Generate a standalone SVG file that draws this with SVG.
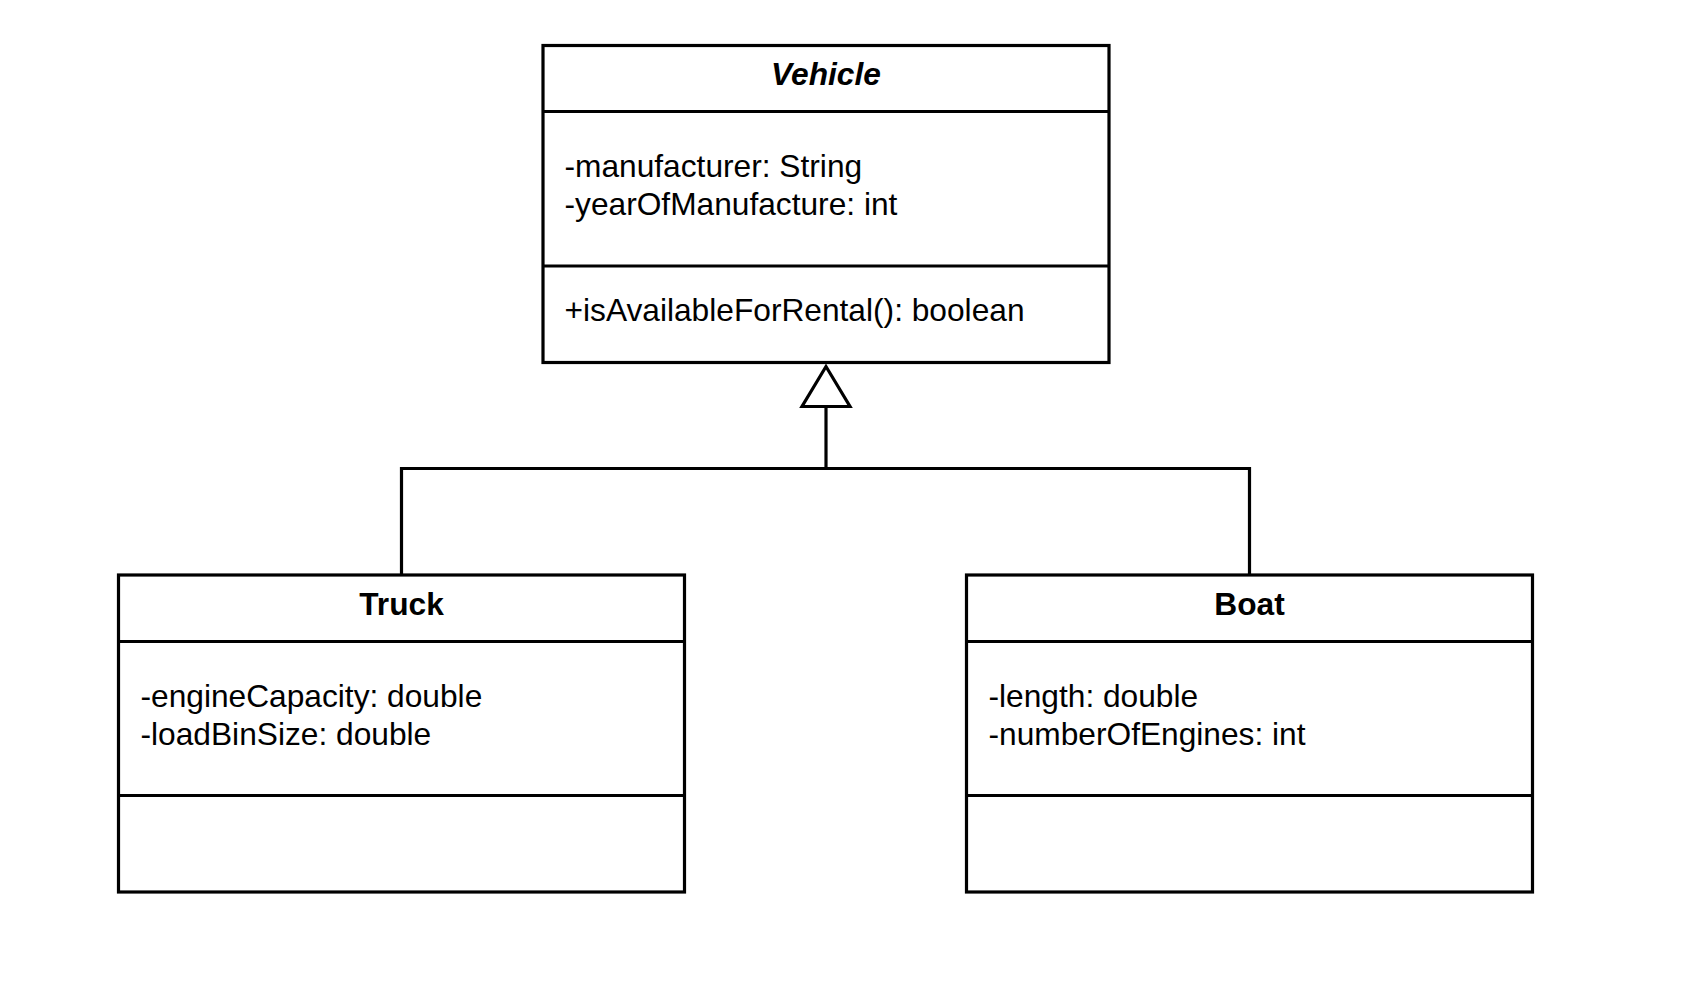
<svg xmlns="http://www.w3.org/2000/svg" width="1696" height="1000" viewBox="0 0 1696 1000">
<style>
.box{fill:#fff;stroke:#000;stroke-width:3.2}
.div{stroke:#000;stroke-width:3.2;fill:none}
.t{font-family:"Liberation Sans",Arial,sans-serif;font-size:31.7px;fill:#000}
.title{font-weight:bold;text-anchor:middle}
.conn{stroke:#000;stroke-width:3.2;fill:none}
</style>
<rect width="1696" height="1000" fill="#fff"/>
<g id="connectors">
<polyline class="conn" points="401.5,575 401.5,468.5 1249.5,468.5 1249.5,575"/>
<line class="conn" x1="826" y1="468.5" x2="826" y2="406.5"/>
<polygon points="826,366.5 802,406.5 850,406.5" fill="#fff" stroke="#000" stroke-width="3.2"/>
</g>
<g id="vehicle">
<rect class="box" x="543" y="45.5" width="566" height="317"/>
<line class="div" x1="543" y1="111.5" x2="1109" y2="111.5"/>
<line class="div" x1="543" y1="266" x2="1109" y2="266"/>
<text class="t title" x="826" y="85" font-style="italic">Vehicle</text>
<text class="t" x="564.5" y="177">-manufacturer: String</text>
<text class="t" x="564.5" y="215">-yearOfManufacture: int</text>
<text class="t" x="564.5" y="321">+isAvailableForRental(): boolean</text>
</g>
<g id="truck">
<rect class="box" x="118.5" y="575" width="566" height="317"/>
<line class="div" x1="118.5" y1="641.5" x2="684.5" y2="641.5"/>
<line class="div" x1="118.5" y1="795.5" x2="684.5" y2="795.5"/>
<text class="t title" x="401.5" y="614.5">Truck</text>
<text class="t" x="140.5" y="706.5">-engineCapacity: double</text>
<text class="t" x="140.5" y="744.5">-loadBinSize: double</text>
</g>
<g id="boat">
<rect class="box" x="966.5" y="575" width="566" height="317"/>
<line class="div" x1="966.5" y1="641.5" x2="1532.5" y2="641.5"/>
<line class="div" x1="966.5" y1="795.5" x2="1532.5" y2="795.5"/>
<text class="t title" x="1249.5" y="614.5">Boat</text>
<text class="t" x="988.5" y="706.5">-length: double</text>
<text class="t" x="988.5" y="744.5">-numberOfEngines: int</text>
</g>
</svg>
